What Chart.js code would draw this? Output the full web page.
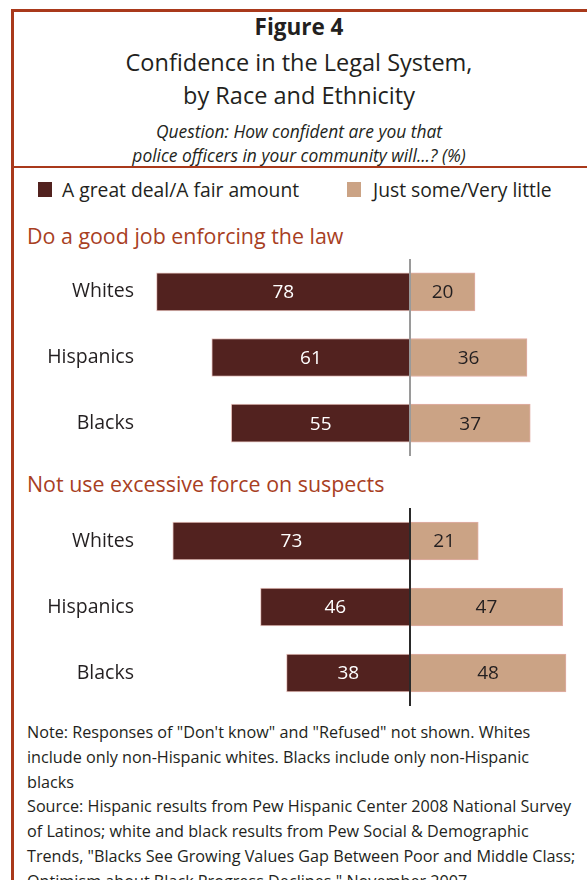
<!DOCTYPE html>
<html>
<head>
<meta charset="utf-8">
<script src="https://cdn.jsdelivr.net/npm/chart.js@4/dist/chart.umd.min.js"></script>
<style>
  html, body { margin: 0; padding: 0; background: #fff; }
  body { width: 587px; height: 880px; overflow: hidden; position: relative; font-family: "Open Sans", sans-serif; color: #231f20; }
  .abs { position: absolute; white-space: nowrap; }
  #frameTop { position: absolute; left: 11px; top: 9px; width: 590px; height: 3px; background: #a9391b; }
  #frameLeft { position: absolute; left: 11px; top: 9px; width: 3px; height: 880px; background: #a9391b; }
  #frameMid { position: absolute; left: 11px; top: 166px; width: 590px; height: 2px; background: #a9391b; }
  .center { left: 11px; width: 576px; text-align: center; }
  #t1 { top: 11px; font-size: 22.5px; font-weight: 700; }
  #t2 { top: 46px; font-size: 23.5px; }
  #t3 { top: 79px; font-size: 23.5px; }
  #q1 { top: 119px; font-size: 17.4px; font-style: italic; }
  #q2 { top: 143px; font-size: 17.4px; font-style: italic; }
  .sw { position: absolute; width: 14px; height: 15px; }
  .lg { font-size: 19.3px; top: 176px; }
  .sec { font-size: 21.4px; color: #a8401f; left: 27px; }
  #notes { left: 27px; top: 720px; font-size: 16.2px; line-height: 24.8px; }
  canvas { position: absolute; left: 0; }
</style>
</head>
<body>
<div id="frameTop"></div>
<div id="frameLeft"></div>
<div id="frameMid"></div>
<div class="abs center" id="t1">Figure 4</div>
<div class="abs center" id="t2">Confidence in the Legal System,</div>
<div class="abs center" id="t3">by Race and Ethnicity</div>
<div class="abs center" id="q1">Question: How confident are you that</div>
<div class="abs center" id="q2">police officers in your community will...? (%)</div>

<div class="sw" style="left:38px; top:182px; background:#52221f;"></div>
<div class="abs lg" id="lg1" style="left:62px;"></div>
<div class="sw" style="left:347px; top:182px; background:#cba385;"></div>
<div class="abs lg" id="lg2" style="left:373px;"></div>

<div class="abs sec" id="sec1" style="top:221px;"></div>
<div class="abs sec" id="sec2" style="top:469px;"></div>

<canvas id="c1" width="587" height="197" style="top:259px;"></canvas>
<canvas id="c2" width="587" height="198" style="top:508px;"></canvas>

<div class="abs" id="notes">Note: Responses of "Don't know" and "Refused" not shown. Whites<br>include only non-Hispanic whites. Blacks include only non-Hispanic<br>blacks<br>Source: Hispanic results from Pew Hispanic Center 2008 National Survey<br>of Latinos; white and black results from Pew Social &amp; Demographic<br>Trends, "Blacks See Growing Values Gap Between Poor and Middle Class;<br>Optimism about Black Progress Declines," November 2007</div>

<script>
// ---- data ----
const categories = ["Whites", "Hispanics", "Blacks"];
const seriesNames = ["A great deal/A fair amount", "Just some/Very little"];
const panelTitles = ["Do a good job enforcing the law", "Not use excessive force on suspects"];
const enforceConfident = [78, 61, 55];
const enforceLittle = [20, 36, 37];
const forceConfident = [73, 46, 38];
const forceLittle = [21, 47, 48];

document.getElementById('lg1').textContent = seriesNames[0];
document.getElementById('lg2').textContent = seriesNames[1];
document.getElementById('sec1').textContent = panelTitles[0];
document.getElementById('sec2').textContent = panelTitles[1];

const DARK = '#52221f', LIGHT = '#cba385';

const valueLabels = {
  id: 'valueLabels',
  afterDatasetsDraw(chart, args, opts) {
    const ctx = chart.ctx;
    const xs = chart.scales.x;
    const x0 = Math.round(xs.getPixelForValue(0));
    ctx.save();
    ctx.strokeStyle = opts.lineColor;
    ctx.lineWidth = 2;
    ctx.beginPath();
    ctx.moveTo(x0, chart.chartArea.top);
    ctx.lineTo(x0, chart.chartArea.bottom);
    ctx.stroke();
    ctx.font = '19px "Open Sans", sans-serif';
    ctx.textAlign = 'center';
    ctx.textBaseline = 'middle';
    chart.data.datasets.forEach((ds, di) => {
      const meta = chart.getDatasetMeta(di);
      meta.data.forEach((el, i) => {
        const p = el.getProps(['x', 'y', 'base'], true);
        ctx.fillStyle = di === 0 ? '#ffffff' : '#231f20';
        ctx.fillText(String(ds.raw[i]), (p.x + p.base) / 2, p.y + 1);
      });
    });
    ctx.restore();
  }
};

function makeChart(id, left, right, lineColor) {
  return new Chart(document.getElementById(id), {
    type: 'bar',
    data: {
      labels: categories,
      datasets: [
        { label: seriesNames[0], raw: left, data: left.map(v => -v), backgroundColor: DARK,
          borderColor: 'rgba(214,150,140,0.55)', borderWidth: 1, barThickness: 38 },
        { label: seriesNames[1], raw: right, data: right, backgroundColor: LIGHT,
          borderColor: '#e2aea6', borderWidth: 1, barThickness: 38 }
      ]
    },
    options: {
      indexAxis: 'y',
      responsive: false,
      animation: false,
      devicePixelRatio: 1,
      layout: { autoPadding: false, padding: { left: 0, right: 8, top: 0, bottom: 0 } },
      plugins: {
        legend: { display: false },
        tooltip: { enabled: false },
        valueLabels: { lineColor: lineColor }
      },
      scales: {
        x: { display: false, stacked: true, min: -80, max: 52 },
        y: {
          stacked: true,
          grid: { display: false, drawTicks: false },
          border: { display: false },
          ticks: { color: '#231f20', font: { family: '"Open Sans", sans-serif', size: 19.5 }, padding: 16 },
          afterFit(scale) { scale.width = 150; scale.paddingTop = 0; scale.paddingBottom = 0; }
        }
      }
    },
    plugins: [valueLabels]
  });
}

makeChart('c1', enforceConfident, enforceLittle, '#9a9a9a');
makeChart('c2', forceConfident, forceLittle, '#2a2a2a');
</script>
</body>
</html>
